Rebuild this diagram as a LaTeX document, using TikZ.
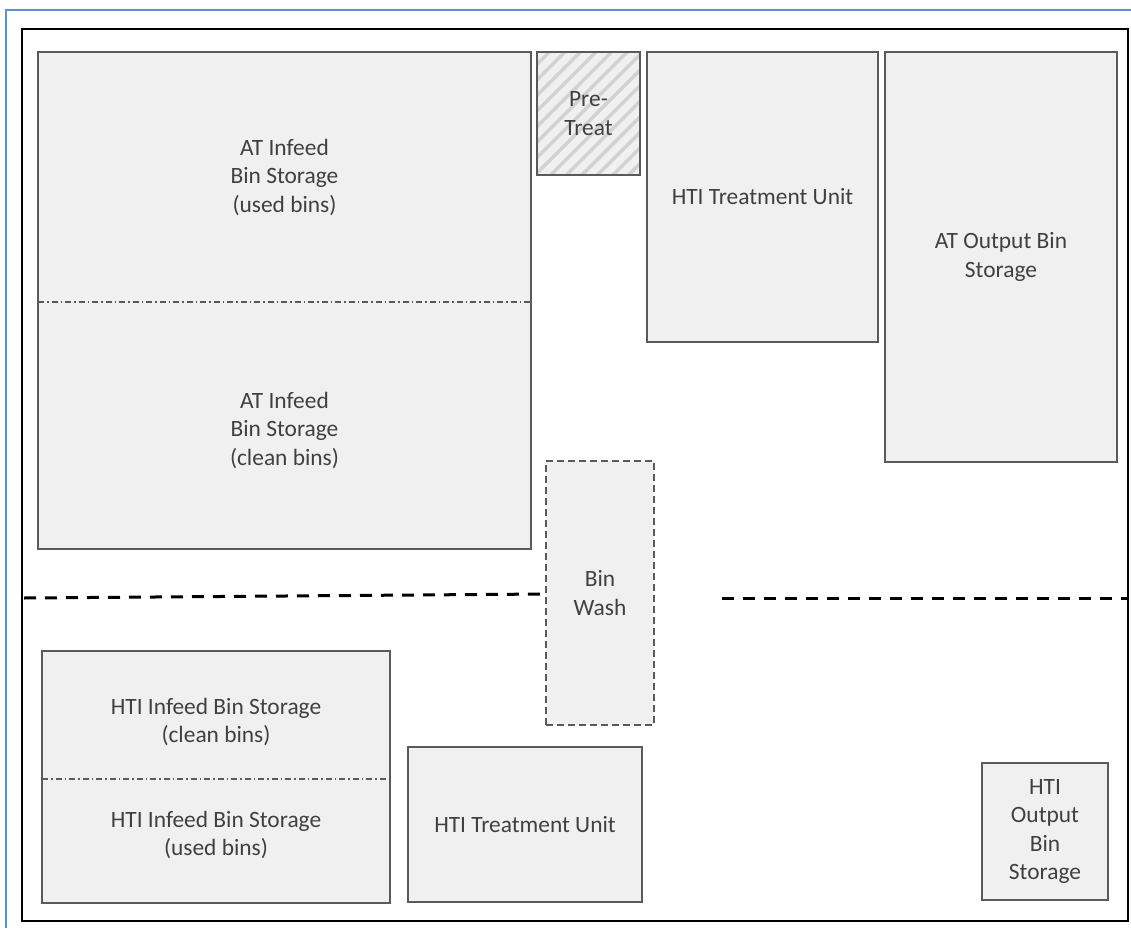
\documentclass[tikz,border=0pt]{standalone}
\usepackage{fontspec}
\setmainfont{Carlito}
\usetikzlibrary{patterns.meta}
\definecolor{boxfill}{HTML}{F0F0F0}
\definecolor{boxline}{HTML}{5A5A5A}
\definecolor{txt}{HTML}{404040}
\definecolor{frameblue}{HTML}{5B8FD6}
\definecolor{hatchc}{HTML}{D2D2D2}
\tikzset{
  area/.style={draw=boxline, fill=boxfill, line width=2.6pt, inner sep=0pt, outer sep=0pt},
  hatched/.style={draw=boxline, line width=2.6pt, inner sep=0pt, outer sep=0pt,
    preaction={fill=boxfill},
    pattern={Lines[angle=45,distance=11pt,line width=3.5pt]}, pattern color=hatchc},
  washbox/.style={draw=boxline, fill=boxfill, line width=2.6pt, dash pattern=on 7pt off 4pt, inner sep=0pt, outer sep=0pt},
  lbl/.style={text=txt, align=center, font=\fontsize{23.4}{28.5}\selectfont, inner sep=0pt},
  divider/.style={draw=boxline, line width=1.2pt, dash pattern=on 6pt off 3pt on 1.5pt off 3pt},
  zoneline/.style={draw=black, line width=3pt, dash pattern=on 12pt off 9pt},
  frameline/.style={draw=black, line width=2.8pt},
}
\begin{document}
\begin{tikzpicture}[x=1pt,y=-1pt]
\useasboundingbox (0,0) rectangle (1131,928);
% outer blue edge
\coordinate (b1) at (6,928);
\coordinate (b2) at (6,10);
\coordinate (b3) at (1131,10);
\draw[frameblue, line width=1.6pt] (b1) -- (b2) -- (b3);
% black frame
\coordinate (f1) at (22,29);
\coordinate (f2) at (1128,921);
\draw[frameline] (f1) rectangle (f2);

% boxes
\node[area, minimum width=493pt, minimum height=497pt] (atin) at (284.5,300.5) {};
\node[hatched, minimum width=103pt, minimum height=123pt] (pre) at (588.5,113.5) {};
\node[area, minimum width=231pt, minimum height=290pt, lbl] (htitop) at (762.5,197) {HTI Treatment Unit};
\node[area, minimum width=232pt, minimum height=410pt, lbl] (atout) at (1001,257) {AT Output Bin\\Storage};
\node[washbox, minimum width=108pt, minimum height=264pt, lbl] (wash) at (600,593) {Bin\\Wash};
\node[area, minimum width=348pt, minimum height=252pt] (htiin) at (216,777) {};
\node[area, minimum width=234pt, minimum height=155pt, lbl] (htibot) at (525,824.5) {HTI Treatment Unit};
\node[area, minimum width=126pt, minimum height=137pt, lbl] (htiout) at (1045,831.5) {HTI\\Output\\Bin\\Storage};

% pre-treat label
\node[lbl] (pretxt) at (pre.center) {Pre-\\Treat};

% split dividers
\coordinate (d1) at (0,302);
\draw[divider] (atin.west |- d1) -- (atin.east |- d1);
\coordinate (d2) at (0,779);
\draw[divider] (htiin.west |- d2) -- (htiin.east |- d2);

% split labels
\node[lbl] (atused) at (284.5,177) {AT Infeed\\Bin Storage\\(used bins)};
\node[lbl] (atclean) at (284.5,430) {AT Infeed\\Bin Storage\\(clean bins)};
\node[lbl] (hticlean) at (216,722) {HTI Infeed Bin Storage\\(clean bins)};
\node[lbl] (htiused) at (216,835) {HTI Infeed Bin Storage\\(used bins)};

% zone boundary dashed lines
\coordinate (z1) at (24,598);
\coordinate (z2) at (546,594);
\draw[zoneline] (z1) -- (z2);
\coordinate (z3) at (722,598);
\coordinate (z4) at (1127,598);
\draw[zoneline] (z3) -- (z4);
\end{tikzpicture}
\end{document}
